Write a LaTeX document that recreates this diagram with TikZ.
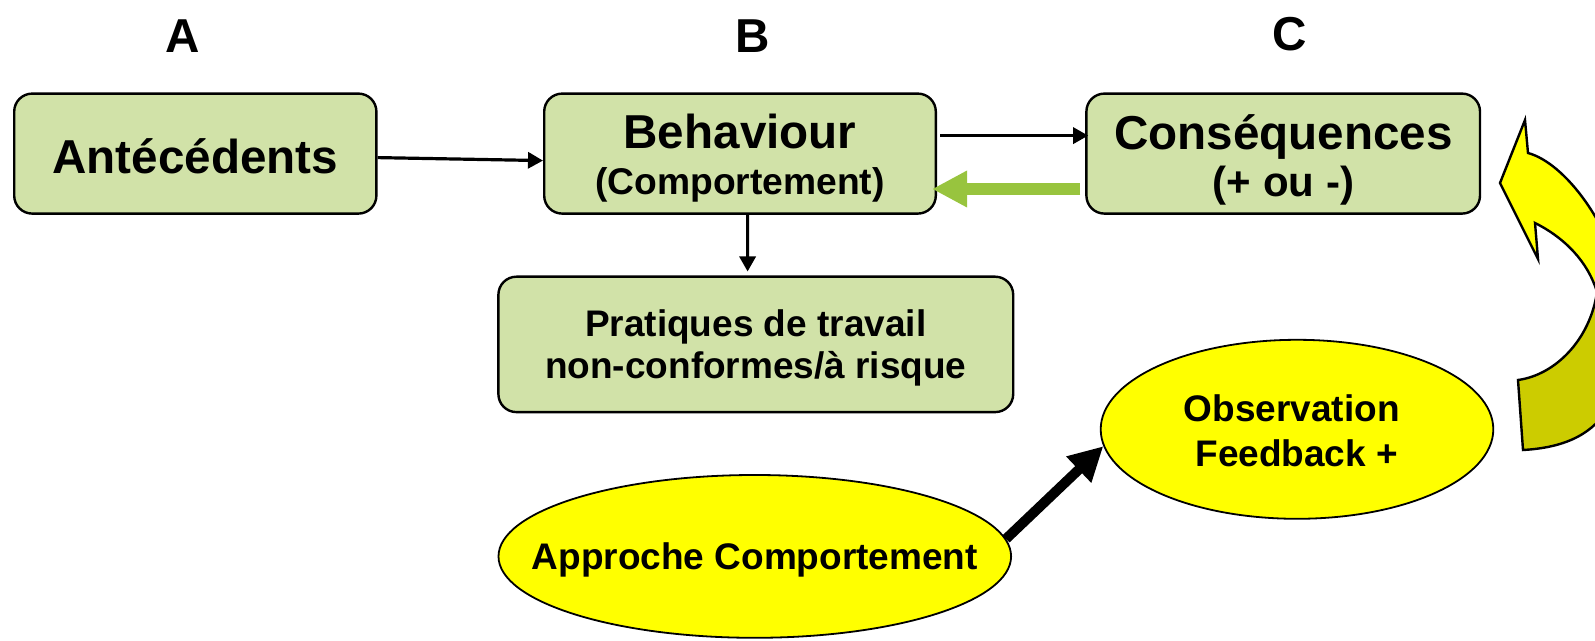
\documentclass[tikz,border=0pt]{standalone}
\usepackage{fontspec}
\setmainfont{Liberation Sans}
\usetikzlibrary{shapes.geometric,arrows.meta}
\definecolor{boxgreen}{RGB}{209,226,168}
\definecolor{arrowgreen}{RGB}{152,196,62}
\definecolor{brightyellow}{RGB}{255,255,0}
\definecolor{darkyellow}{RGB}{204,204,0}
\begin{document}
\begin{tikzpicture}[x=0.5pt,y=-0.5pt,
  box/.style={draw=black,line width=1.2pt,fill=boxgreen,rounded corners=9pt,inner sep=0pt},
  oval/.style={ellipse,draw=black,line width=0.9pt,fill=brightyellow,inner sep=0pt},
  txt/.style={inner sep=0pt,anchor=base},
  big/.style={txt,font=\bfseries\fontsize{23.8}{28}\selectfont},
  mid/.style={txt,font=\bfseries\fontsize{18.5}{22}\selectfont},
  small/.style={txt,font=\bfseries\fontsize{18.6}{22}\selectfont},
  sign/.style={txt,font=\bfseries\fontsize{21}{25}\selectfont},
  link/.style={line width=1.6pt,-{Triangle[length=7.5pt,width=8pt]}},
  fatlink/.style={line width=5pt,-{Triangle[length=17pt,width=17pt]}},
  backlink/.style={draw=arrowgreen,line width=5.85pt,-{Triangle[length=17.6pt,width=17.2pt]}}
]
\useasboundingbox (0,0) rectangle (1595,641);

% column letters
\node[big] (labA) at (183,52.9) {A};
\node[big] (labB) at (752.7,52.9) {B};
\node[big] (labC) at (1289.8,50.5) {C};

% A-B-C boxes
\node[box,minimum width=181.1pt,minimum height=60pt] (ant) at (195.3,153.6) {};
\node[box,minimum width=195.8pt,minimum height=60pt] (beh) at (740,153.6) {};
\node[box,minimum width=196.8pt,minimum height=60pt] (con) at (1283.2,153.6) {};
\node[box,minimum width=257.4pt,minimum height=67.7pt] (prat) at (755.8,344.4) {};

\node[big] (antT) at (195.3,174) {Antécédents};
\node[big] (behT) at (740,148.3) {Behaviour};
\node[small] (behS) at (740,195) {(Comportement)};
\node[big] (conT) at (1283.5,150) {Conséquences};
\node[sign] (conS) at (1283.5,197) {(+ ou -)};
\node[mid] (pratA) at (755.8,336.7) {Pratiques de travail};
\node[mid] (pratB) at (755.8,378.3) {non-conformes/à risque};

% ovals
\node[oval,minimum width=256.3pt,minimum height=81.4pt] (appr) at (754.8,556.4) {};
\node[oval,minimum width=196.3pt,minimum height=89.5pt] (obs) at (1297,429.3) {};
\node[mid] (apprT) at (754.8,569.6) {Approche Comportement};
\node[mid] (obsA) at (1291.7,421.7) {Observation};
\node[mid] (obsB) at (1296.7,466.7) {Feedback +};

% connectors
\draw[link] ([yshift=-2pt]ant.east) -- ([yshift=-3.5pt]beh.west);
\draw[link] ([xshift=1.7pt,yshift=9pt]beh.east) -- ([xshift=1.5pt,yshift=9pt]con.west);
\draw[backlink] ([xshift=-2.4pt,yshift=-17.7pt]con.west) -- ([xshift=-2.5pt,yshift=-17.7pt]beh.east);
\draw[link] ([xshift=3.8pt]beh.south) -- ([xshift=-4.1pt,yshift=2pt]prat.north);
\draw[fatlink] (appr.4.5) -- (obs.185);

% curved return arrow at the right edge
\begin{scope}
\clip (0,0) rectangle (1595,641);
\fill[brightyellow] (1528,153) -- (1525,120) -- (1500,183) -- (1538,259) -- (1535,223)
  .. controls (1565,238) and (1588,262) .. (1597,292) -- (1625,295)
  .. controls (1612,225) and (1565,163) .. (1528,153) -- cycle;
\fill[darkyellow] (1597,292) -- (1625,295)
  .. controls (1630,390) and (1612,445) .. (1523,450) -- (1518,380)
  .. controls (1555,375) and (1590,340) .. (1597,292) -- cycle;
\draw[line width=1.2pt,line join=miter] (1528,153) -- (1525,120) -- (1500,183) -- (1538,259) -- (1535,223)
  .. controls (1565,238) and (1588,262) .. (1597,292)
  .. controls (1590,340) and (1555,375) .. (1518,380) -- (1523,450)
  .. controls (1612,445) and (1630,390) .. (1625,295)
  .. controls (1612,225) and (1565,163) .. (1528,153) -- cycle;
\end{scope}
\end{tikzpicture}
\end{document}
